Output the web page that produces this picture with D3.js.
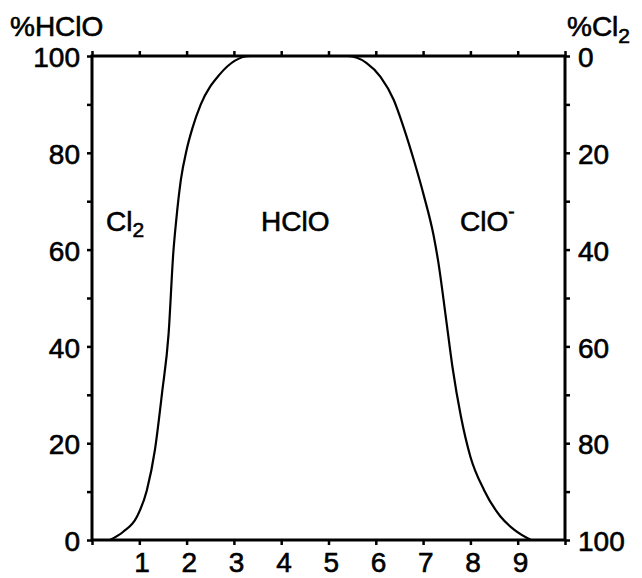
<!DOCTYPE html>
<html>
<head>
<meta charset="utf-8">
<script src="https://cdn.jsdelivr.net/npm/d3@7"></script>
<style>
  body { margin: 0; background: #fff; }
  svg text { font-family: "Liberation Sans", Arial, sans-serif; fill: #000; stroke: #000; stroke-width: 0.6px; }
</style>
</head>
<body>
<svg id="chart" width="642" height="578"></svg>
<script>
// pH values and % HClO
var phValues  = [0.38, 0.66, 0.95, 1.16, 1.33, 1.48, 1.62, 1.72, 1.78, 1.88, 2.0, 2.12, 2.3, 2.7, 3.35,
                 4.4, 5.4, 5.8, 6.1, 6.38, 6.6, 6.81, 7.02, 7.22, 7.32, 7.48, 7.62, 7.8, 8.0, 8.29, 8.64, 8.93, 9.28];
var hcloValues = [0, 1.7, 4.8, 10.3, 18.6, 30.3, 42.7, 59.5, 66.0, 74.5, 80.6, 85.0, 90.0, 96.2, 100,
                 100, 100, 98.6, 95.7, 90.9, 84.9, 78.3, 71.0, 63.0, 57.5, 46.1, 35.8, 25.5, 17.2, 10.3, 4.8, 2.1, 0];

var xTickLabels = [1, 2, 3, 4, 5, 6, 7, 8, 9];
var leftTickLabels = [0, 20, 40, 60, 80, 100];
var rightTickLabels = [100, 80, 60, 40, 20, 0];
var minorTicks = [10, 30, 50, 70, 90];

var data = phValues.map(function(d, i) { return {ph: d, v: hcloValues[i]}; });

var svg = d3.select("#chart");
var margin = {top: 56, right: 77, bottom: 38, left: 92},
    width = 642, height = 578;

var x = d3.scaleLinear()
      .domain([0, 10])
      .range([margin.left, width - margin.right]);

var y = d3.scaleLinear()
      .domain([0, 100])
      .range([height - margin.bottom, margin.top]);

// right axis is %Cl2, running the other way
var yRight = d3.scaleLinear()
      .domain([100, 0])
      .range([height - margin.bottom, margin.top]);

var fontSize = 28;

// curve
var line = d3.line()
      .x(function(d) { return x(d.ph); })
      .y(function(d) { return y(d.v); })
      .curve(d3.curveMonotoneX);

svg.append("path")
    .datum(data)
    .attr("d", line)
    .style("fill", "none")
    .style("stroke", "#000")
    .style("stroke-width", 2.2);

// bottom axis
svg.append("g")
    .attr("transform", "translate(0," + y(0) + ")")
    .call(d3.axisBottom(x).tickValues(d3.range(0, 11)).tickSize(5).tickFormat(""))
    .call(function(g) {
      g.select(".domain").remove();
      g.selectAll("line").style("stroke-width", 2.5);
    });

svg.append("g")
    .attr("transform", "translate(0," + y(0) + ")")
    .call(d3.axisBottom(x).tickValues(xTickLabels).tickSize(0).tickPadding(12))
    .call(function(g) {
      g.select(".domain").remove();
      g.selectAll("text")
        .attr("dx", "0.08em")
        .attr("dy", "0.72em")
        .style("font-size", fontSize + "px");
    });

// top ticks
svg.append("g")
    .attr("transform", "translate(0," + y(100) + ")")
    .call(d3.axisTop(x).tickValues(d3.range(0, 11)).tickSize(5).tickFormat(""))
    .call(function(g) {
      g.select(".domain").remove();
      g.selectAll("line").style("stroke-width", 2.5);
    });

// left axis
svg.append("g")
    .attr("transform", "translate(" + x(0) + ",0)")
    .call(d3.axisLeft(y).tickValues(leftTickLabels.concat(minorTicks)).tickSize(5).tickPadding(7)
          .tickFormat(function(d) { return leftTickLabels.indexOf(d) >= 0 ? d : ""; }))
    .call(function(g) {
      g.select(".domain").remove();
      g.selectAll("line").style("stroke-width", 2.5);
      g.selectAll("text")
        .attr("dy", "0.38em")
        .style("font-size", fontSize + "px");
    });

// right axis
svg.append("g")
    .attr("transform", "translate(" + x(10) + ",0)")
    .call(d3.axisRight(yRight).tickValues(rightTickLabels.concat(minorTicks)).tickSize(5).tickPadding(8)
          .tickFormat(function(d) { return rightTickLabels.indexOf(d) >= 0 ? d : ""; }))
    .call(function(g) {
      g.select(".domain").remove();
      g.selectAll("line").style("stroke-width", 2.5);
      g.selectAll("text")
        .attr("dy", "0.38em")
        .style("font-size", fontSize + "px");
    });

// frame
svg.append("rect")
    .attr("x", x(0))
    .attr("y", y(100))
    .attr("width", x(10) - x(0))
    .attr("height", y(0) - y(100))
    .style("fill", "none")
    .style("stroke", "#000")
    .style("stroke-width", 3);

// axis titles
svg.append("text")
    .attr("x", 10)
    .attr("y", 36)
    .style("font-size", fontSize + "px")
    .text("%HClO");

var rTitle = svg.append("text")
    .attr("x", 567)
    .attr("y", 36)
    .style("font-size", fontSize + "px");
rTitle.append("tspan").text("%Cl");
rTitle.append("tspan").attr("dy", 7).style("font-size", "21px").text("2");

// species labels
var cl2 = svg.append("text")
    .attr("x", 106)
    .attr("y", 231)
    .style("font-size", fontSize + "px");
cl2.append("tspan").text("Cl");
cl2.append("tspan").attr("dy", 6).style("font-size", "21px").text("2");

svg.append("text")
    .attr("x", 261)
    .attr("y", 231)
    .style("font-size", fontSize + "px")
    .text("HClO");

var clo = svg.append("text")
    .attr("x", 460)
    .attr("y", 231)
    .style("font-size", fontSize + "px");
clo.append("tspan").text("ClO");
clo.append("tspan").attr("dy", -13).style("font-size", "19px").text("-");
</script>
</body>
</html>
